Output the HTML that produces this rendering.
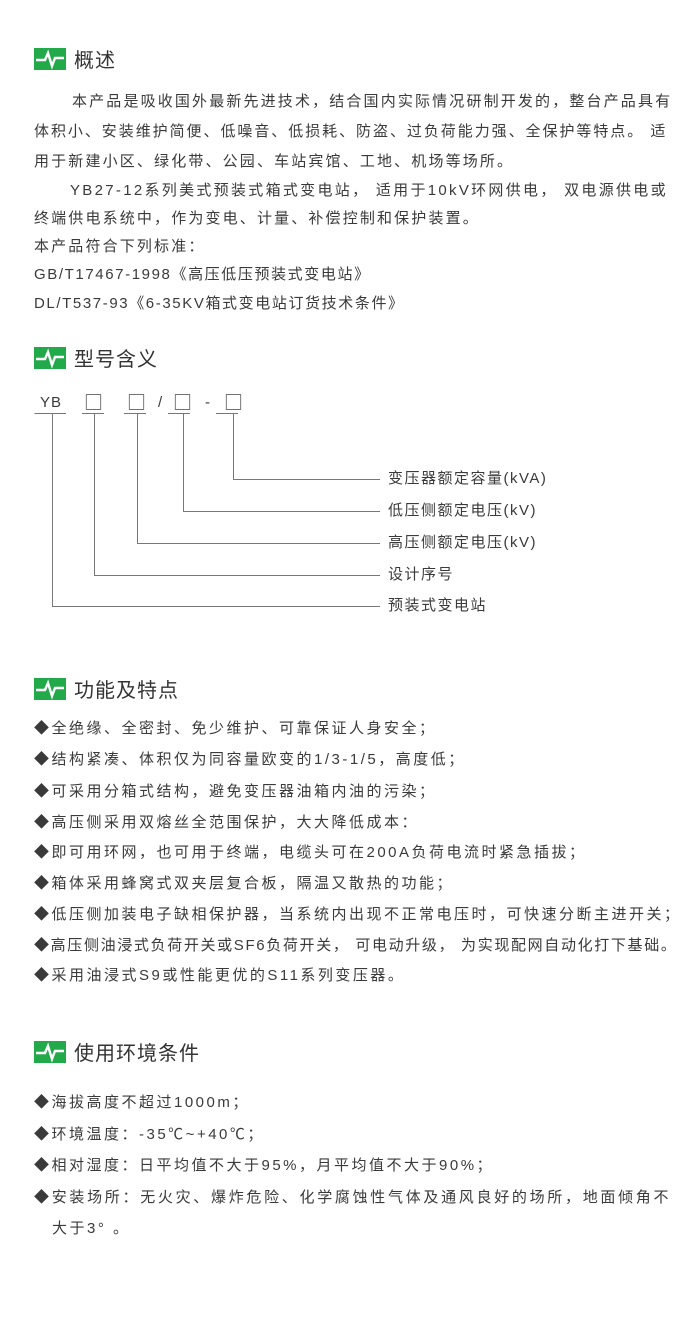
<!DOCTYPE html>
<html><head><meta charset="utf-8"><style>
body{margin:0;width:690px;height:1332px;background:#fff;position:relative;overflow:hidden;font-family:"Liberation Sans","Noto Sans CJK SC",sans-serif;color:#3a3a3a}
.t{position:absolute;left:34px;font-size:15px;letter-spacing:2.15px;white-space:nowrap;line-height:20px}
.l{letter-spacing:2.5px}
.b{position:absolute;font-family:"Noto Sans CJK SC",sans-serif;font-size:19px;line-height:20px;color:#444}
.h{position:absolute;left:34px;height:24px;font-size:20px;color:#333;white-space:nowrap}
.h svg{vertical-align:middle;margin-right:8px}
.h span{vertical-align:middle;letter-spacing:1px}
</style></head><body>
<div class="h" style="top:44px"><svg width="32" height="22"><rect width="32" height="22" fill="#22a94a"/><polyline points="2,12 11,12 14,5 18,18 21,10 30,10" fill="none" stroke="#fff" stroke-width="2.4"/></svg><span>概述</span></div>
<div class="t" style="top:92px;left:72px">本产品是吸收国外最新先进技术，结合国内实际情况研制开发的，整台产品具有</div>
<div class="t" style="top:122px;letter-spacing:1.95px">体积小、安装维护简便、低噪音、低损耗、防盗、过负荷能力强、全保护等特点。 适</div>
<div class="t" style="top:152px">用于新建小区、绿化带、公园、车站宾馆、工地、机场等场所。</div>
<div class="t" style="top:181px;left:70px;letter-spacing:2.3px">YB27-12系列美式预装式箱式变电站， 适用于10kV环网供电， 双电源供电或</div>
<div class="t" style="top:209px">终端供电系统中，作为变电、计量、补偿控制和保护装置。</div>
<div class="t" style="top:237px">本产品符合下列标准：</div>
<div class="t" style="top:265px;letter-spacing:1.6px">GB/T17467-1998《高压低压预装式变电站》</div>
<div class="t" style="top:294px;letter-spacing:1.6px">DL/T537-93《6-35KV箱式变电站订货技术条件》</div>

<div class="h" style="top:343px"><svg width="32" height="22"><rect width="32" height="22" fill="#22a94a"/><polyline points="2,12 11,12 14,5 18,18 21,10 30,10" fill="none" stroke="#fff" stroke-width="2.4"/></svg><span>型号含义</span></div>
<div class="t" style="top:393px;left:40px;letter-spacing:1px">YB</div>
<div class="b" style="top:392px;left:84px">□</div>
<div class="b" style="top:392px;left:127px">□</div>
<div class="t" style="top:393px;left:158px">/</div>
<div class="b" style="top:392px;left:173px">□</div>
<div class="t" style="top:393px;left:205px">-</div>
<div class="b" style="top:392px;left:224px">□</div>
<svg style="position:absolute;left:0;top:0" width="690" height="640"><g stroke="#777" stroke-width="1" fill="none">
<path d="M34.5 413.5H66M82 413.5H104M124 413.5H146M168 413.5H190M216 413.5H238"/>
<path d="M52.5 413V606.5H380M94.5 413V575.5H380M137.5 413V543.5H380M183.5 413V511.5H380M233.5 413V479.5H380"/>
</g></svg>
<div class="t" style="top:469px;left:388px;letter-spacing:1.5px">变压器额定容量(kVA)</div>
<div class="t" style="top:501px;left:388px;letter-spacing:1.5px">低压侧额定电压(kV)</div>
<div class="t" style="top:533px;left:388px;letter-spacing:1.5px">高压侧额定电压(kV)</div>
<div class="t" style="top:565px;left:388px;letter-spacing:1.5px">设计序号</div>
<div class="t" style="top:596px;left:388px;letter-spacing:1.5px">预装式变电站</div>

<div class="h" style="top:674px"><svg width="32" height="22"><rect width="32" height="22" fill="#22a94a"/><polyline points="2,12 11,12 14,5 18,18 21,10 30,10" fill="none" stroke="#fff" stroke-width="2.4"/></svg><span>功能及特点</span></div>
<div class="t l" style="top:719px">◆全绝缘、全密封、免少维护、可靠保证人身安全；</div>
<div class="t l" style="top:750px">◆结构紧凑、体积仅为同容量欧变的1/3-1/5，高度低；</div>
<div class="t l" style="top:782px">◆可采用分箱式结构，避免变压器油箱内油的污染；</div>
<div class="t l" style="top:813px">◆高压侧采用双熔丝全范围保护，大大降低成本：</div>
<div class="t l" style="top:843px">◆即可用环网，也可用于终端，电缆头可在200A负荷电流时紧急插拔；</div>
<div class="t l" style="top:874px">◆箱体采用蜂窝式双夹层复合板，隔温又散热的功能；</div>
<div class="t l" style="top:905px">◆低压侧加装电子缺相保护器，当系统内出现不正常电压时，可快速分断主进开关；</div>
<div class="t" style="top:936px;letter-spacing:1.65px">◆高压侧油浸式负荷开关或SF6负荷开关， 可电动升级， 为实现配网自动化打下基础。</div>
<div class="t l" style="top:966px">◆采用油浸式S9或性能更优的S11系列变压器。</div>

<div class="h" style="top:1037px"><svg width="32" height="22"><rect width="32" height="22" fill="#22a94a"/><polyline points="2,12 11,12 14,5 18,18 21,10 30,10" fill="none" stroke="#fff" stroke-width="2.4"/></svg><span>使用环境条件</span></div>
<div class="t l" style="top:1093px">◆海拔高度不超过1000m；</div>
<div class="t l" style="top:1125px">◆环境温度：-35℃~+40℃；</div>
<div class="t l" style="top:1156px">◆相对湿度：日平均值不大于95%，月平均值不大于90%；</div>
<div class="t" style="top:1188px;letter-spacing:2.7px">◆安装场所：无火灾、爆炸危险、化学腐蚀性气体及通风良好的场所，地面倾角不</div>
<div class="t l" style="top:1219px;left:52px">大于3° 。</div>
</body></html>
